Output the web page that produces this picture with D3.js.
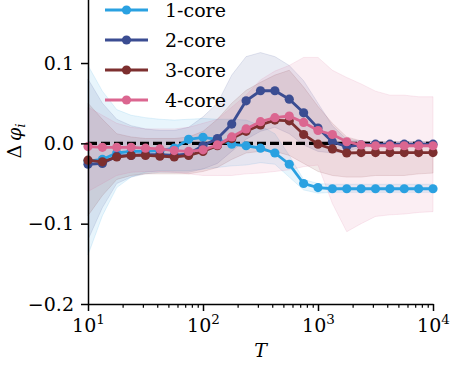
<!DOCTYPE html>
<html>
<head>
<meta charset="utf-8">
<script src="https://cdn.jsdelivr.net/npm/d3@7/dist/d3.min.js"></script>
<style>
  body { margin: 0; background: #fff; }
  svg { display: block; }
  svg text { font-family: "DejaVu Serif", "Liberation Serif", serif; }
</style>
</head>
<body>
<svg id="chart" width="471" height="366"></svg>
<script>
// --- DATA ---
const T = [10, 13.34, 17.78, 23.71, 31.62, 42.17, 56.23, 74.99, 100, 133.4, 177.8, 237.1,
           316.2, 421.7, 562.3, 749.9, 1000, 1334, 1778, 2371, 3162, 4217, 5623, 7499, 10000];

const seriesNames = ["1-core", "2-core", "3-core", "4-core"];
const seriesColors = ["#2aa1e1", "#3b4d92", "#7d2f2f", "#db6690"];

const core1 = [-0.022, -0.02, -0.012, -0.01, -0.01, -0.009, -0.006, 0.005, 0.0075, 0.005, -0.001, -0.003,
               -0.006, -0.012, -0.026, -0.05, -0.055, -0.0565, -0.0565, -0.0565, -0.0565, -0.0565, -0.0565, -0.0565, -0.0565];
const core2 = [-0.026, -0.025, -0.016, -0.015, -0.014, -0.014, -0.015, -0.013, -0.003, 0.006, 0.024, 0.053,
               0.0655, 0.0655, 0.055, 0.038, 0.019, 0.002, -0.004, -0.002, -0.001, -0.001, -0.001, -0.001, -0.001];
const core3 = [-0.021, -0.023, -0.017, -0.015, -0.015, -0.016, -0.017, -0.015, -0.01, -0.003, 0.006, 0.015,
               0.023, 0.029, 0.028, 0.011, -0.001, -0.007, -0.012, -0.0115, -0.0115, -0.0115, -0.0115, -0.0115, -0.0115];
const core4 = [-0.004, -0.005, -0.005, -0.005, -0.006, -0.007, -0.009, -0.01, -0.008, -0.002, 0.008, 0.018,
               0.027, 0.032, 0.034, 0.026, 0.016, 0.011, 0.002, -0.002, -0.003, -0.003, -0.003, -0.003, -0.003];

// shaded spread (lower / upper)
const core1Lo = [-0.139, -0.09, -0.055, -0.042, -0.036, -0.034, -0.034, -0.034, -0.032, -0.03, -0.028, -0.027,
                 -0.024, -0.026, -0.042, -0.058, -0.062, -0.061, -0.061, -0.061, -0.061, -0.061, -0.061, -0.061, -0.061];
const core1Hi = [0.097, 0.065, 0.042, 0.035, 0.032, 0.03, 0.029, 0.03, 0.031, 0.03, 0.03, 0.029,
                 0.022, 0.012, -0.015, -0.045, -0.05, -0.051, -0.051, -0.051, -0.051, -0.051, -0.051, -0.051, -0.051];
const core2Lo = [-0.12, -0.08, -0.05, -0.042, -0.038, -0.036, -0.036, -0.036, -0.032, -0.025, -0.01, 0.005,
                 0.015, 0.02, 0.012, -0.002, -0.01, -0.012, -0.01, -0.005, -0.004, -0.004, -0.004, -0.004, -0.004];
const core2Hi = [0.08, 0.05, 0.03, 0.022, 0.018, 0.016, 0.016, 0.02, 0.033, 0.05, 0.085, 0.108,
                 0.113, 0.108, 0.097, 0.078, 0.05, 0.022, 0.005, 0.003, 0.002, 0.002, 0.002, 0.002, 0.002];
const core3Lo = [-0.09, -0.065, -0.045, -0.04, -0.038, -0.038, -0.038, -0.038, -0.035, -0.03, -0.02, -0.012,
                 -0.01, -0.01, -0.015, -0.025, -0.035, -0.04, -0.042, -0.042, -0.04, -0.04, -0.04, -0.038, -0.037];
const core3Hi = [0.05, 0.03, 0.012, 0.008, 0.006, 0.006, 0.006, 0.008, 0.015, 0.03, 0.05, 0.066,
                 0.076, 0.085, 0.091, 0.07, 0.046, 0.025, 0.008, 0.003, 0.002, 0.002, 0.002, 0.002, 0.002];
const core4Lo = [-0.06, -0.05, -0.04, -0.036, -0.035, -0.035, -0.036, -0.038, -0.04, -0.04, -0.04, -0.038,
                 -0.037, -0.035, -0.033, -0.029, -0.027, -0.075, -0.11, -0.1, -0.091, -0.089, -0.088, -0.086, -0.085];
const core4Hi = [0.045, 0.035, 0.025, 0.02, 0.018, 0.018, 0.018, 0.02, 0.025, 0.03, 0.045, 0.06,
                 0.079, 0.09, 0.097, 0.107, 0.107, 0.091, 0.082, 0.074, 0.065, 0.06, 0.06, 0.058, 0.058];

const yTicks = [-0.2, -0.1, 0, 0.1];
const xTicks = [10, 100, 1000, 10000];
const xTickExp = ["1", "2", "3", "4"];

// --- SETUP ---
const svg = d3.select("#chart");
const x = d3.scaleLog().domain([10, 10000]).range([88, 433]);
const y = d3.scaleLinear().domain([-0.2, 0.2]).range([304, -17.3]);

const series = [
    { name: seriesNames[0], color: seriesColors[0], v: core1, lo: core1Lo, hi: core1Hi },
    { name: seriesNames[1], color: seriesColors[1], v: core2, lo: core2Lo, hi: core2Hi },
    { name: seriesNames[2], color: seriesColors[2], v: core3, lo: core3Lo, hi: core3Hi },
    { name: seriesNames[3], color: seriesColors[3], v: core4, lo: core4Lo, hi: core4Hi }
];

const plot = svg.append("g");

const area = d3.area()
    .x((d, i) => x(T[i]))
    .y0(d => y(d[0]))
    .y1(d => y(d[1]));
const line = d3.line().x((d, i) => x(T[i])).y(d => y(d));

series.forEach(s => {
    const band = s.lo.map((l, i) => [l, s.hi[i]]);
    plot.append("path")
        .attr("d", area(band))
        .attr("fill", s.color).attr("fill-opacity", 0.11)
        .attr("stroke", s.color).attr("stroke-opacity", 0.13).attr("stroke-width", 1);
});

// zero reference
plot.append("line")
    .attr("x1", x(10)).attr("x2", x(10000))
    .attr("y1", y(0)).attr("y2", y(0))
    .attr("stroke", "#000").attr("stroke-width", 3.2)
    .attr("stroke-dasharray", "9,4");

series.forEach(s => {
    const g = plot.append("g");
    g.append("path")
        .attr("d", line(s.v))
        .attr("fill", "none").attr("stroke", s.color).attr("stroke-width", 2.8);
    g.selectAll("circle")
        .data(s.v).join("circle")
        .attr("cx", (d, i) => x(T[i]))
        .attr("cy", d => y(d))
        .attr("r", 4.6)
        .attr("fill", s.color);
});

// --- AXES ---
const yAxis = svg.append("g")
    .attr("transform", "translate(88,0)")
    .call(d3.axisLeft(y).tickValues(yTicks).tickSize(7).tickSizeOuter(0).tickPadding(7)
        .tickFormat(d3.format(".1f")));
yAxis.attr("font-family", null);
yAxis.selectAll("text").attr("font-size", 19).attr("fill", "#000");
yAxis.selectAll("line").attr("stroke-width", 1.5);
yAxis.select(".domain").attr("stroke-width", 1.5);

const minors = [];
[10, 100, 1000].forEach(b => { for (let k = 2; k <= 9; k++) minors.push(b * k); });

const xMinor = svg.append("g")
    .attr("transform", "translate(0,304)")
    .call(d3.axisBottom(x).tickValues(minors).tickSize(3.8).tickSizeOuter(0).tickFormat(""));
xMinor.selectAll("line").attr("stroke-width", 1.2);
xMinor.select(".domain").remove();

const xAxis = svg.append("g")
    .attr("transform", "translate(0,304)")
    .call(d3.axisBottom(x).tickValues(xTicks).tickSize(7).tickSizeOuter(0).tickFormat(""));
xAxis.attr("font-family", null);
xAxis.selectAll("line").attr("stroke-width", 1.5);
xAxis.select(".domain").attr("stroke-width", 1.5);
xAxis.selectAll(".tick").append("text")
    .attr("y", 28).attr("fill", "#000")
    .attr("font-size", 19).attr("text-anchor", "middle")
    .each(function(d, i) {
        const t = d3.select(this);
        t.append("tspan").text("10");
        t.append("tspan").attr("dy", -8).attr("font-size", 13.5).text(xTickExp[i]);
    });

// axis titles
svg.append("text")
    .attr("x", 260.5).attr("y", 357)
    .attr("text-anchor", "middle").attr("font-size", 19).attr("font-style", "italic")
    .text("T");

const yl = svg.append("text")
    .attr("transform", "translate(21,141) rotate(-90)")
    .attr("text-anchor", "middle").attr("font-size", 19);
yl.append("tspan").text("Δ\u2009");
yl.append("tspan").attr("font-style", "italic").text("φ");
yl.append("tspan").attr("font-style", "italic").attr("font-size", 13.5).attr("dy", 4).text("i");

// --- LEGEND ---
const legend = svg.append("g");
series.forEach((s, i) => {
    const cy = 10 + i * 30;
    legend.append("line")
        .attr("x1", 105).attr("x2", 148).attr("y1", cy).attr("y2", cy)
        .attr("stroke", s.color).attr("stroke-width", 2.8);
    legend.append("circle").attr("cx", 126.5).attr("cy", cy).attr("r", 4.6).attr("fill", s.color);
    legend.append("text")
        .attr("x", 165).attr("y", cy).attr("dy", "0.35em")
        .attr("font-size", 19).attr("fill", "#000")
        .text(s.name);
});
</script>
</body>
</html>
